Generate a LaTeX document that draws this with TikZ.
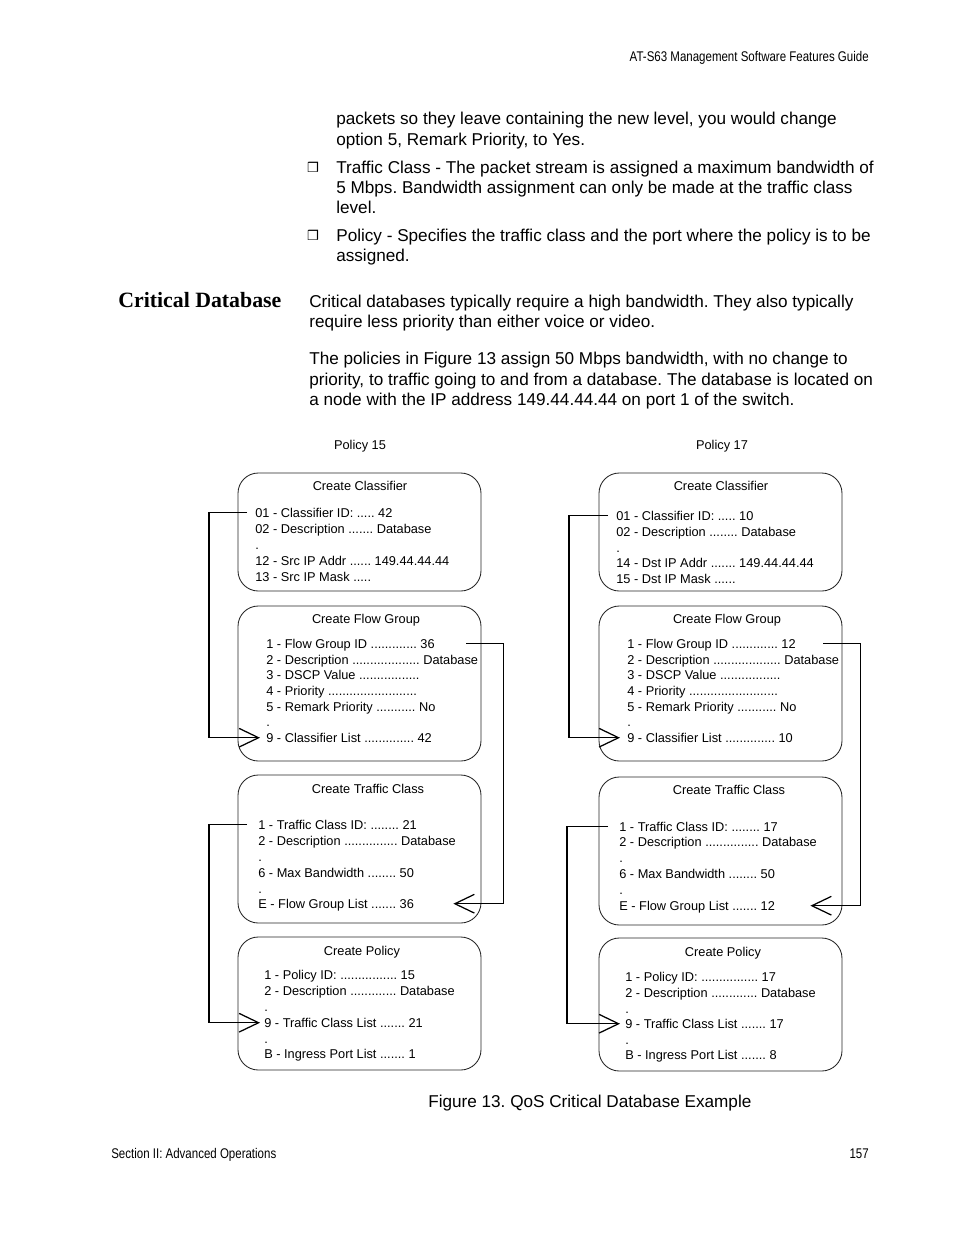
\documentclass[tikz,border=0pt]{standalone}
\usepackage{fontspec}
\setmainfont{Liberation Sans}
\newfontfamily\narrowfont{Liberation Sans}[FakeStretch=0.82]
\newfontfamily\headfont{Liberation Serif}
\newfontfamily\symfont{DejaVu Sans}
\usetikzlibrary{arrows.meta,calc,fit}
\frenchspacing
\newcommand\boxfont{\fontsize{8.2}{10}\selectfont}
\newcommand\bodyfont{\fontsize{11}{13}\selectfont}
\tikzset{
  box/.style={draw=black!85, rounded corners=13pt, inner sep=0pt, line width=0.55pt},
  row/.style={anchor=base west, inner sep=0pt, font=\boxfont, text height=7pt, text depth=1.5pt},
  title/.style={anchor=base, inner sep=0pt, font=\boxfont},
  body/.style={anchor=base west, inner sep=0pt, font=\bodyfont},
  bullet/.style={anchor=center, inner sep=0pt, font=\symfont\fontsize{8.5}{10}\selectfont},
  pagetext/.style={inner sep=0pt, font=\narrowfont\fontsize{9}{10}\selectfont},
  link/.style={line width=0.8pt, -{Straight Barb[length=12.5pt,width=12pt]}},
}
\begin{document}
\begin{tikzpicture}[x=0.6415pt,y=-0.6415pt]
  \useasboundingbox (0,0) rectangle (954,1235);
  % page header and footer
  \path
    (869,61) node[pagetext, anchor=base east] (head) {AT-S63 Management Software Features Guide}
    (111,1158) node[pagetext, anchor=base west] (foot) {Section II: Advanced Operations}
    (869,1158) node[pagetext, anchor=base east] (page) {157};
  % running text
  \path
    (336,124) node[body] (t1) {packets so they leave containing the new level, you would change}
    (336,145) node[body] (t2) {option 5, Remark Priority, to Yes.}
    (313,167) node[bullet] (b1) {❒}
    (336,173) node[body] (t3) {Traffic Class - The packet stream is assigned a maximum bandwidth of}
    (336,193) node[body] (t4) {5 Mbps. Bandwidth assignment can only be made at the traffic class}
    (336,213) node[body] (t5) {level.}
    (313,235) node[bullet] (b2) {❒}
    (336,241) node[body] (t6) {Policy - Specifies the traffic class and the port where the policy is to be}
    (336,261) node[body] (t7) {assigned.};
  \path
    (118,307) node[anchor=base west, inner sep=0pt, font=\headfont\bfseries\fontsize{14}{16}\selectfont] (sec) {Critical Database}
    (309,307) node[body] (s1) {Critical databases typically require a high bandwidth. They also typically}
    (309,327) node[body] (s2) {require less priority than either voice or video.}
    (309,364) node[body] (s3) {The policies in Figure 13 assign 50 Mbps bandwidth, with no change to}
    (309,385) node[body] (s4) {priority, to traffic going to and from a database. The database is located on}
    (309,405) node[body] (s5) {a node with the IP address 149.44.44.44 on port 1 of the switch.};
  \path
    (428,1107) node[body] (cap) {Figure 13. QoS Critical Database Example};
  % boxes
  \node[box, fit={(238,473) (481,591)}] (cl15) {};
  \node[box, fit={(238,606) (481,761)}] (fg15) {};
  \node[box, fit={(238,775) (481,923)}] (tc15) {};
  \node[box, fit={(238,937) (481,1070)}] (po15) {};
  \node[box, fit={(599,473) (842,591)}] (cl17) {};
  \node[box, fit={(599,606) (842,761)}] (fg17) {};
  \node[box, fit={(599,777) (842,925)}] (tc17) {};
  \node[box, fit={(599,938) (842,1071)}] (po17) {};
  % policy 15
  \path
    (360,449) node[title] (p15) {Policy 15}
    (360,490) node[title] (cl15-t) {Create Classifier}
    (255,517) node[row] (cl15-1) {01 - Classifier ID: ..... 42}
    (255,533) node[row] (cl15-2) {02 - Description ....... Database}
    (255,549) node[row] (cl15-d) {.}
    (255,565) node[row] (cl15-12) {12 - Src IP Addr ...... 149.44.44.44}
    (255,581) node[row] (cl15-13) {13 - Src IP Mask .....};
  \path
    (366,623) node[title] (fg15-t) {Create Flow Group}
    (266,648) node[row] (fg15-1) {1 - Flow Group ID ............. 36}
    (266,664) node[row] (fg15-2) {2 - Description ................... Database}
    (266,679) node[row] (fg15-3) {3 - DSCP Value .................}
    (266,695) node[row] (fg15-4) {4 - Priority .........................}
    (266,711) node[row] (fg15-5) {5 - Remark Priority ........... No}
    (266,726) node[row] (fg15-d) {.}
    (266,742) node[row] (fg15-9) {9 - Classifier List .............. 42};
  \path
    (368,793) node[title] (tc15-t) {Create Traffic Class}
    (258,829) node[row] (tc15-1) {1 - Traffic Class ID: ........ 21}
    (258,845) node[row] (tc15-2) {2 - Description ............... Database}
    (258,861) node[row] (tc15-d1) {.}
    (258,877) node[row] (tc15-6) {6 - Max Bandwidth ........ 50}
    (258,893) node[row] (tc15-d2) {.}
    (258,908) node[row] (tc15-E) {E - Flow Group List ....... 36};
  \path
    (362,955) node[title] (po15-t) {Create Policy}
    (264,979) node[row] (po15-1) {1 - Policy ID: ................ 15}
    (264,995) node[row] (po15-2) {2 - Description ............. Database}
    (264,1011) node[row] (po15-d1) {.}
    (264,1027) node[row] (po15-9) {9 - Traffic Class List ....... 21}
    (264,1043) node[row] (po15-d2) {.}
    (264,1058) node[row] (po15-B) {B - Ingress Port List ....... 1};
  % policy 17
  \path
    (722,449) node[title] (p17) {Policy 17}
    (721,490) node[title] (cl17-t) {Create Classifier}
    (616,520) node[row] (cl17-1) {01 - Classifier ID: ..... 10}
    (616,536) node[row] (cl17-2) {02 - Description ........ Database}
    (616,552) node[row] (cl17-d) {.}
    (616,567) node[row] (cl17-14) {14 - Dst IP Addr ....... 149.44.44.44}
    (616,583) node[row] (cl17-15) {15 - Dst IP Mask ......};
  \path
    (727,623) node[title] (fg17-t) {Create Flow Group}
    (627,648) node[row] (fg17-1) {1 - Flow Group ID ............. 12}
    (627,664) node[row] (fg17-2) {2 - Description ................... Database}
    (627,679) node[row] (fg17-3) {3 - DSCP Value .................}
    (627,695) node[row] (fg17-4) {4 - Priority .........................}
    (627,711) node[row] (fg17-5) {5 - Remark Priority ........... No}
    (627,726) node[row] (fg17-d) {.}
    (627,742) node[row] (fg17-9) {9 - Classifier List .............. 10};
  \path
    (729,794) node[title] (tc17-t) {Create Traffic Class}
    (619,831) node[row] (tc17-1) {1 - Traffic Class ID: ........ 17}
    (619,846) node[row] (tc17-2) {2 - Description ............... Database}
    (619,862) node[row] (tc17-d1) {.}
    (619,878) node[row] (tc17-6) {6 - Max Bandwidth ........ 50}
    (619,894) node[row] (tc17-d2) {.}
    (619,910) node[row] (tc17-E) {E - Flow Group List ....... 12};
  \path
    (723,956) node[title] (po17-t) {Create Policy}
    (625,981) node[row] (po17-1) {1 - Policy ID: ................ 17}
    (625,997) node[row] (po17-2) {2 - Description ............. Database}
    (625,1013) node[row] (po17-d1) {.}
    (625,1028) node[row] (po17-9) {9 - Traffic Class List ....... 17}
    (625,1044) node[row] (po17-d2) {.}
    (625,1059) node[row] (po17-B) {B - Ingress Port List ....... 8};
  % links
  \draw[link] ($(cl15-1.west)+(-8,0)$) -- ++(-38,0) |- ($(fg15-9.west)+(-6,0)$);
  \draw[link] ($(fg15-1.west -| fg15.east)+(-15,0)$) -- ++(37,0) |- ($(tc15-E.west -| tc15.east)+(-28,0)$);
  \draw[link] ($(tc15-1.west)+(-11,0)$) -- ++(-38,0) |- ($(po15-9.west)+(-4,0)$);
  \draw[link] ($(cl17-1.west)+(-8,0)$) -- ++(-39,0) |- ($(fg17-9.west)+(-7,0)$);
  \draw[link] ($(fg17-1.west -| fg17.east)+(-19,0)$) -- ++(37,0) |- ($(tc17-E.west -| tc17.east)+(-32,0)$);
  \draw[link] ($(tc17-1.west)+(-11,0)$) -- ++(-41,0) |- ($(po17-9.west)+(-5,0)$);
\end{tikzpicture}
\end{document}
